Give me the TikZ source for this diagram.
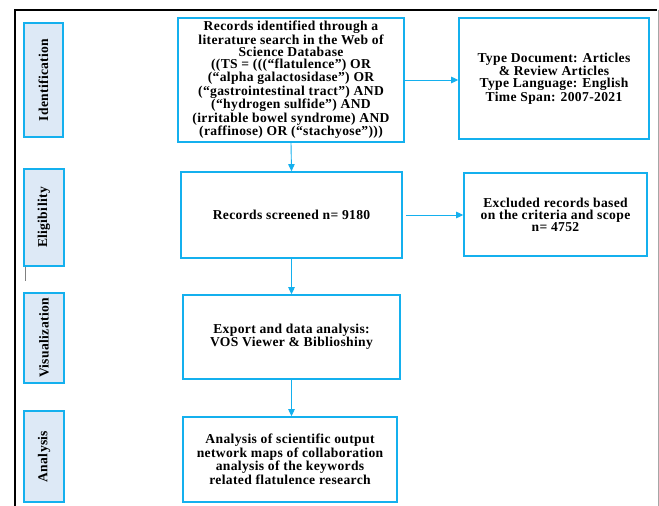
\documentclass[tikz,border=0pt]{standalone}
\usepackage{fontspec}
\setmainfont{Liberation Serif}[LetterSpace=2.5]
\usetikzlibrary{arrows.meta}
\definecolor{cyanline}{RGB}{20,176,238}
\definecolor{labelfill}{RGB}{221,233,246}
\begin{document}
\begin{tikzpicture}[x=1pt,y=-1pt,
  txt/.style={font=\fontsize{13.6}{12}\selectfont\bfseries, align=center, inner sep=0pt},
  mainbox/.style={txt, draw=cyanline, line width=1.6pt, fill=white},
  sidelabel/.style={draw=cyanline, line width=1.8pt, fill=labelfill, inner sep=0pt},
  flow/.style={draw=cyanline, line width=0.9pt, -{Triangle[length=7pt,width=6.5pt]}}]
\useasboundingbox (0,0) rectangle (659,506);
\fill[white] (0,0) rectangle (659,506);
% frame
\draw[line width=2.2pt] (15,506) -- (15,10) -- (657,10);
\draw[gray!70, line width=0.8pt] (658,10) -- (658,506);
\draw[gray, line width=0.8pt] (25,266) -- (25,281);
% side labels
\node[sidelabel, minimum width=39pt, minimum height=114pt] (lid) at (43.5,80) {};
\node[txt, rotate=90] at (lid.center) {Identification};
\node[sidelabel, minimum width=40pt, minimum height=97pt] (lel) at (44,217.5) {};
\node[txt, rotate=90] at (lel.center) {Eligibility};
\node[sidelabel, minimum width=40pt, minimum height=90pt] (lvi) at (44,338) {};
\node[txt, rotate=90] at (lvi.center) {Visualization};
\node[sidelabel, minimum width=40pt, minimum height=91pt] (lan) at (44,456.5) {};
\node[txt, rotate=90] at (lan.center) {Analysis};
% main boxes
\node[mainbox, minimum width=226pt, minimum height=124pt] (rec) at (291,80)
  {Records identified through a\\literature search in the Web of\\Science Database\\((TS = (((“flatulence”) OR\\(“alpha galactosidase”) OR\\(“gastrointestinal tract”) AND\\(“hydrogen sulfide”) AND\\(irritable bowel syndrome) AND\\(raffinose) OR (“stachyose”)))};
\node[mainbox, minimum width=190pt, minimum height=121pt] (typ) at (554,78.5)
  {Type Document: Articles\\\& Review Articles\\Type Language: English\\Time Span: 2007-2021};
\node[mainbox, minimum width=221pt, minimum height=86pt] (scr) at (291.5,215)
  {Records screened n= 9180};
\node[mainbox, minimum width=183pt, minimum height=83pt] (exc) at (555.5,214.5)
  {Excluded records based\\on the criteria and scope\\n= 4752};
\node[mainbox, minimum width=217pt, minimum height=84pt] (exp) at (291.5,337)
  {Export and data analysis:\\VOS Viewer \& Biblioshiny};
\node[mainbox, minimum width=214pt, minimum height=85pt] (ana) at (290,459.5)
  {Analysis of scientific output\\network maps of collaboration\\analysis of the keywords\\related flatulence research};
% connectors
\draw[flow] (rec.south) -- (scr.north);
\draw[flow] (rec.east) -- (rec.east -| typ.west);
\draw[flow, shorten <=3pt] (scr.east) -- (scr.east -| exc.west);
\draw[flow] (scr.south) -- (scr.south |- exp.north);
\draw[flow] (exp.south) -- (exp.south |- ana.north);
\end{tikzpicture}
\end{document}
